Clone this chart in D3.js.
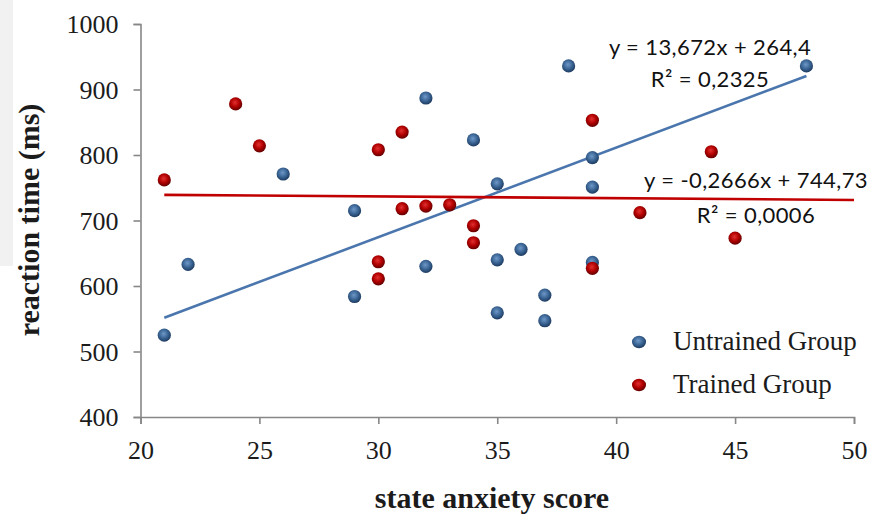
<!DOCTYPE html>
<html>
<head>
<meta charset="utf-8">
<script src="https://cdn.jsdelivr.net/npm/d3@7"></script>
<style>
  html, body { margin: 0; padding: 0; background: #fff; }
  svg { display: block; }
</style>
</head>
<body>
<svg id="chart" width="875" height="517"></svg>
<script>
// Reaction time vs. state anxiety score, two groups with linear trendlines
const untrainedX = [21, 22, 26, 29, 29, 32, 32, 34, 35, 35, 35, 36, 37, 37, 38, 39, 39, 39, 48];
const untrainedY = [525, 633, 771, 715, 584, 887, 630, 823, 756, 640, 559, 656, 586, 547, 936, 796, 751, 636, 936];
const trainedX = [21, 24, 25, 30, 30, 30, 31, 31, 32, 33, 34, 34, 39, 39, 41, 44, 45];
const trainedY = [762, 878, 814, 808, 637, 611, 835, 718, 722, 724, 692, 666, 853, 627, 712, 805, 673];

const seriesNames = ["Untrained Group", "Trained Group"];
const trendSlopes = [13.672, -0.2666];
const trendIntercepts = [264.4, 744.73];
const trendR2 = [0.2325, 0.0006];
const trendFrom = [21, 21];
const trendTo = [48, 50];

const xTicks = [20, 25, 30, 35, 40, 45, 50];
const yTicks = [400, 500, 600, 700, 800, 900, 1000];

const svg = d3.select("#chart");
const W = 875, H = 517;
svg.append("rect").attr("width", W).attr("height", H).attr("fill", "#fff");
svg.append("rect").attr("x", 0).attr("y", 0).attr("width", 13).attr("height", 266).attr("fill", "#f1f1f1");

const x = d3.scaleLinear().domain([20, 50]).range([140.5, 854]);
const y = d3.scaleLinear().domain([400, 1000]).range([417, 24]);

const colors = {
  blue: { line: "#4a76ad", hi: "#6d98c8", mid: "#3b6594", lo: "#1c3a60" },
  red: { line: "#c00000", hi: "#e03030", mid: "#b00000", lo: "#620000" }
};

// glossy marker gradients
const defs = svg.append("defs");
function grad(id, c) {
  const g = defs.append("radialGradient").attr("id", id)
    .attr("cx", "45%").attr("cy", "40%").attr("r", "60%");
  g.append("stop").attr("offset", "0%").attr("stop-color", c.hi);
  g.append("stop").attr("offset", "55%").attr("stop-color", c.mid);
  g.append("stop").attr("offset", "100%").attr("stop-color", c.lo);
}
grad("gBlue", colors.blue);
grad("gRed", colors.red);

const serif = "'Liberation Serif', 'Times New Roman', serif";
const sans = "Lato, 'Open Sans', sans-serif";
const textColor = "#1b1b1b";

// axes
const yAxis = d3.axisLeft(y).tickValues(yTicks).tickSize(7).tickPadding(15).tickFormat(d3.format("d"));
const xAxis = d3.axisBottom(x).tickValues(xTicks).tickSize(7).tickFormat(d3.format("d"));

const gy = svg.append("g").attr("transform", `translate(${x(20)},0)`).call(yAxis);
const gx = svg.append("g").attr("transform", `translate(0,${y(400)})`).call(xAxis);

[gx, gy].forEach(g => {
  g.select(".domain").attr("stroke", "#878787").attr("stroke-width", 1.6);
  g.selectAll(".tick line").attr("stroke", "#878787").attr("stroke-width", 1.6);
  g.selectAll(".tick text").attr("font-family", serif).attr("font-size", 26).attr("fill", textColor);
});
gy.selectAll(".tick text").attr("dy", "0.34em");
gx.selectAll(".tick text").attr("dy", 0).attr("y", 42);

// trendlines
const trendColors = [colors.blue.line, colors.red.line];
trendSlopes.forEach((m, i) => {
  const f = v => m * v + trendIntercepts[i];
  svg.append("line")
    .attr("x1", x(trendFrom[i])).attr("y1", y(f(trendFrom[i])))
    .attr("x2", x(trendTo[i])).attr("y2", y(f(trendTo[i])))
    .attr("stroke", trendColors[i]).attr("stroke-width", 2.6);
});

// points
function drawPoints(xs, ys, fill) {
  svg.append("g").selectAll("circle")
    .data(xs.map((v, i) => [v, ys[i]]))
    .join("circle")
    .attr("cx", d => x(d[0])).attr("cy", d => y(d[1]))
    .attr("r", 6.6).attr("fill", fill);
}
drawPoints(untrainedX, untrainedY, "url(#gBlue)");
drawPoints(trainedX, trainedY, "url(#gRed)");

// trendline equations
const comma = v => String(v).replace(".", ",");
const eqPos = [
  { x: 710, y1: 55, y2: 87 },
  { x: 756, y1: 188, y2: 223 }
];
trendSlopes.forEach((m, i) => {
  const eq = `y = ${comma(m)}x + ${comma(trendIntercepts[i])}`;
  const r2 = `R² = ${comma(trendR2[i])}`;
  [[eq, eqPos[i].y1], [r2, eqPos[i].y2]].forEach(([t, yy]) => {
    svg.append("text")
      .attr("x", eqPos[i].x).attr("y", yy)
      .attr("text-anchor", "middle")
      .attr("font-family", sans).attr("font-size", 22)
      .attr("letter-spacing", 0.4)
      .attr("fill", "#111")
      .text(t);
  });
});

// legend
const legendFills = ["url(#gBlue)", "url(#gRed)"];
seriesNames.forEach((name, i) => {
  const ly = 342 + i * 43;
  svg.append("ellipse").attr("cx", 639).attr("cy", ly).attr("rx", 7).attr("ry", 6.2).attr("fill", legendFills[i]);
  svg.append("text").attr("x", 673).attr("y", ly + 8)
    .attr("font-family", serif).attr("font-size", 27).attr("fill", textColor)
    .text(name);
});

// axis titles
svg.append("text")
  .attr("x", 492).attr("y", 508)
  .attr("text-anchor", "middle")
  .attr("font-family", serif).attr("font-size", 30).attr("font-weight", "bold")
  .attr("fill", textColor)
  .text("state anxiety score");

svg.append("text")
  .attr("transform", `translate(39,220) rotate(-90)`)
  .attr("text-anchor", "middle")
  .attr("font-family", serif).attr("font-size", 30).attr("font-weight", "bold")
  .attr("fill", textColor)
  .text("reaction time (ms)");
</script>
</body>
</html>
